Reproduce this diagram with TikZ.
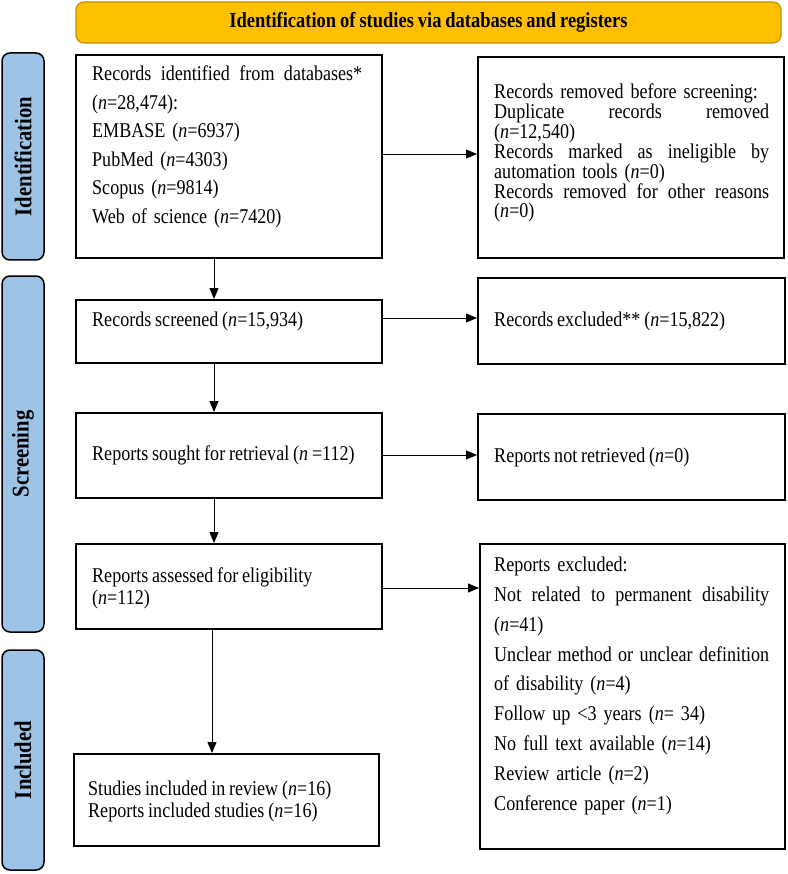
\documentclass[tikz,border=0pt]{standalone}
\usepackage{fontspec}
\setmainfont{Liberation Serif}[FakeStretch=0.86,WordSpace=0.85]
\usetikzlibrary{arrows.meta}
\definecolor{bannerfill}{HTML}{FFC000}
\definecolor{bannerdraw}{HTML}{BF9000}
\definecolor{sidefill}{HTML}{9DC3E6}
\begin{document}
\begin{tikzpicture}[x=1pt,y=-1pt,
  box/.style={draw=black, line width=1.6pt, inner sep=0pt, anchor=north west},
  side/.style={draw=black, line width=1.5pt, fill=sidefill, rounded corners=8pt, inner sep=0pt, rotate=90, font=\fontsize{24}{26}\selectfont\bfseries},
  conn/.style={line width=0.9pt, -{Triangle[length=11pt,width=9pt]}},
  txt/.style={inner sep=0pt, align=left, font=\fontsize{21}{21}\selectfont}
]
\useasboundingbox (0,0) rectangle (787,874);

% banner
\node[draw=bannerdraw, line width=1.2pt, fill=bannerfill, rounded corners=8pt, minimum width=705pt, minimum height=41pt, inner sep=0pt, font=\fontsize{21.5}{22}\selectfont\bfseries] (banner) at (428.5,22.5) {Identification of studies via databases and registers};

% side labels
\node[side, minimum width=207pt, minimum height=42pt] (sid) at (23,156.5) {Identification};
\node[side, minimum width=356pt, minimum height=42pt] (sscr) at (23,454) {Screening};
\node[side, minimum width=220pt, minimum height=42pt] (sinc) at (23,760) {Included};

% boxes
\node[box, minimum width=306pt, minimum height=203pt] (b1) at (75,54) {};
\node[box, minimum width=306pt, minimum height=201pt] (b2) at (477,56) {};
\node[box, minimum width=306pt, minimum height=63pt] (b3) at (75,299) {};
\node[box, minimum width=307pt, minimum height=86pt] (b4) at (477,277) {};
\node[box, minimum width=306pt, minimum height=85pt] (b5) at (75,412) {};
\node[box, minimum width=307pt, minimum height=86pt] (b6) at (477,413) {};
\node[box, minimum width=306pt, minimum height=85pt] (b7) at (75,543) {};
\node[box, minimum width=305pt, minimum height=305pt] (b8) at (479,543) {};
\node[box, minimum width=305pt, minimum height=92pt] (b9) at (73,753) {};

% texts
\node[txt, anchor=north west, text width=270pt, font=\fontsize{21}{28.5}\selectfont] (t1) at (92,66) {Records\hfill identified\hfill from\hfill databases*\\(\textit{n}=28,474):\\EMBASE (\textit{n}=6937)\\PubMed (\textit{n}=4303)\\Scopus (\textit{n}=9814)\\Web of science (\textit{n}=7420)};
\node[txt, anchor=west, text width=275pt, font=\fontsize{21}{19}\selectfont] (t2) at (494,153) {Records removed before screening:\\Duplicate\hfill records\hfill removed\\(\textit{n}=12,540)\\Records\hfill marked\hfill as\hfill ineligible\hfill by\\automation tools (\textit{n}=0)\\Records\hfill removed\hfill for\hfill other\hfill reasons\\(\textit{n}=0)};
\node[txt, anchor=west] (t3) at (92,321) {Records screened (\textit{n}=15,934)};
\node[txt, anchor=west] (t4) at (494,321) {Records excluded** (\textit{n}=15,822)};
\node[txt, anchor=west] (t5) at (92,455) {Reports sought for retrieval (\textit{n} =112)};
\node[txt, anchor=west] (t6) at (494,457) {Reports not retrieved (\textit{n}=0)};
\node[txt, anchor=west, font=\fontsize{21}{22}\selectfont] (t7) at (92,588) {Reports assessed for eligibility\\(\textit{n}=112)};
\node[txt, anchor=north west, text width=275pt, font=\fontsize{21}{29.8}\selectfont] (t8) at (494,557) {Reports excluded:\\Not\hfill related\hfill to\hfill permanent\hfill disability\\(\textit{n}=41)\\Unclear\hfill method\hfill or\hfill unclear\hfill definition\\of disability (\textit{n}=4)\\Follow up {<}3 years (\textit{n}= 34)\\No full text available (\textit{n}=14)\\Review article (\textit{n}=2)\\Conference paper (\textit{n}=1)};
\node[txt, anchor=west, font=\fontsize{21}{22}\selectfont] (t9) at (88,801) {Studies included in review (\textit{n}=16)\\Reports included studies (\textit{n}=16)};

% connectors
\coordinate (vx) at (214,0);
\coordinate (vx2) at (212,0);
\coordinate (h1) at (0,154);
\coordinate (h2) at (0,318);
\coordinate (h3) at (0,455);
\coordinate (h4) at (0,588);
\draw[conn] (b1.south -| vx) -- (b3.north -| vx);
\draw[conn] (b3.south -| vx) -- (b5.north -| vx);
\draw[conn] (b5.south -| vx) -- (b7.north -| vx);
\draw[conn] (b7.south -| vx2) -- (b9.north -| vx2);
\draw[conn] (b1.east |- h1) -- (b2.west |- h1);
\draw[conn] (b3.east |- h2) -- (b4.west |- h2);
\draw[conn] (b5.east |- h3) -- (b6.west |- h3);
\draw[conn] (b7.east |- h4) -- (b8.west |- h4);
\end{tikzpicture}
\end{document}
